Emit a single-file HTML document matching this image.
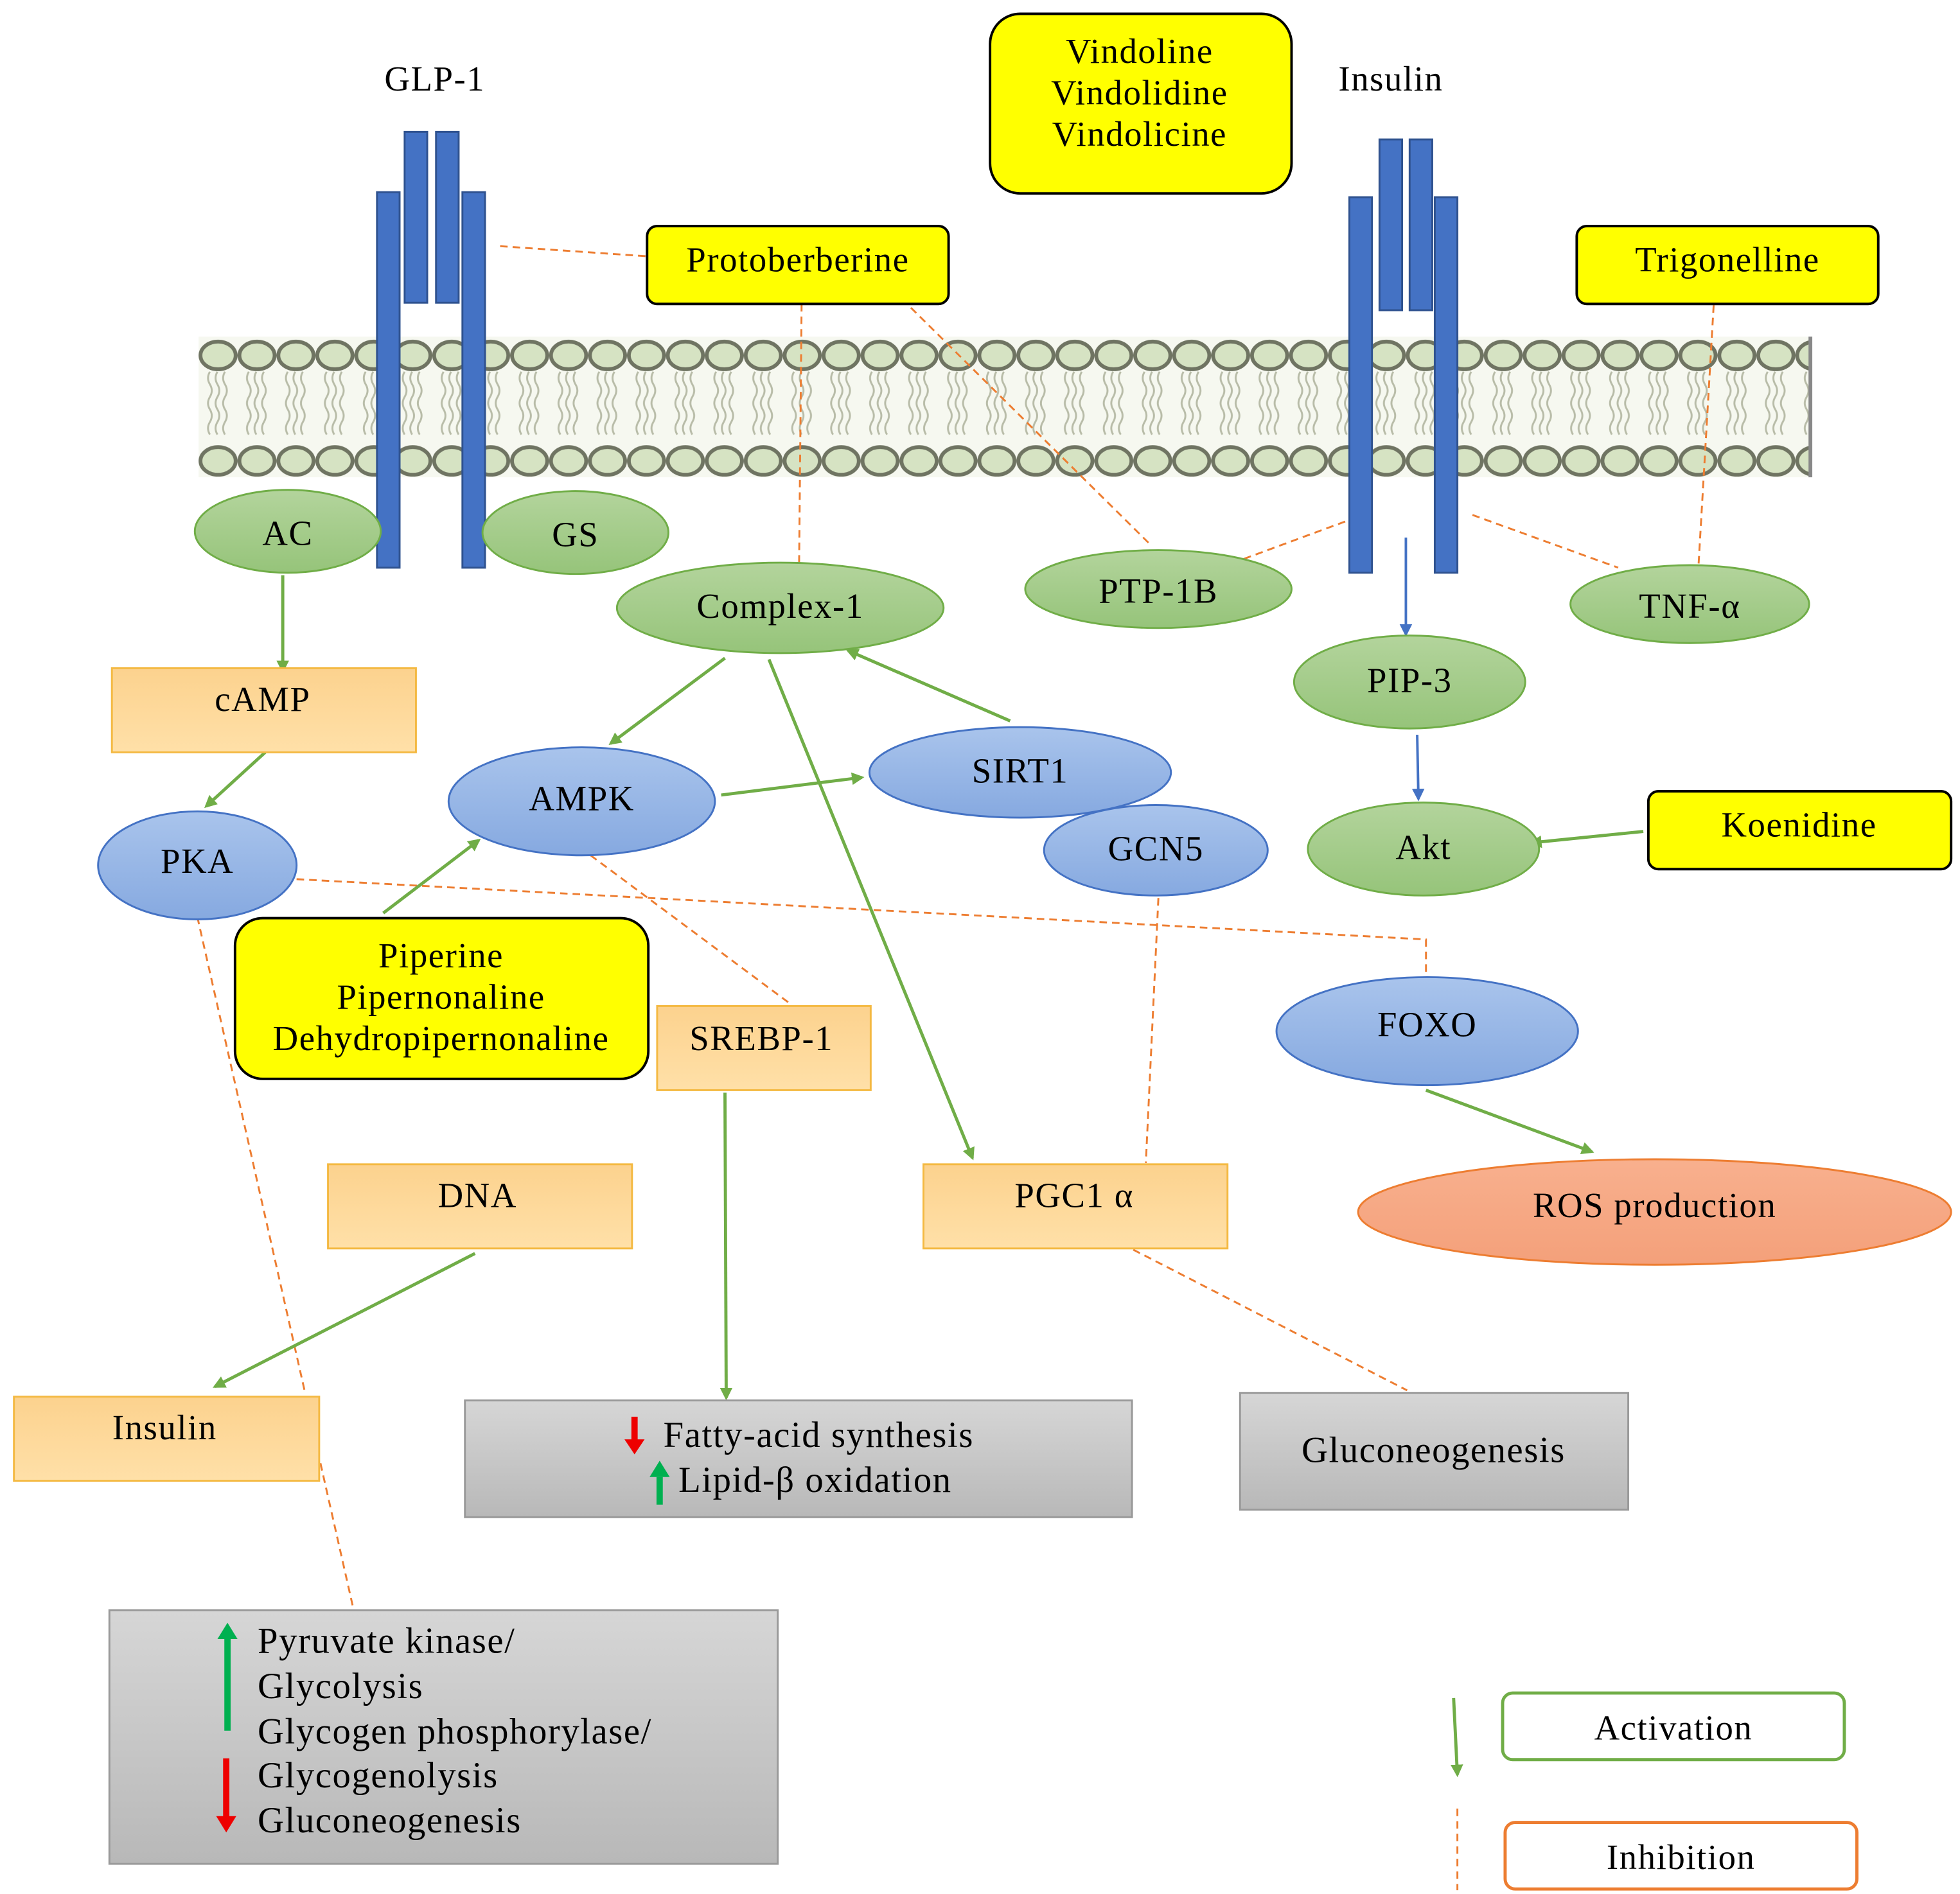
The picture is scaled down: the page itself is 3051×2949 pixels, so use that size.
<!DOCTYPE html>
<html><head><meta charset="utf-8"><style>html,body{margin:0;padding:0;background:#fff}svg{display:block}text{font-family:"Liberation Serif",serif;fill:#000;letter-spacing:0.8px}</style></head><body>
<svg width="3051" height="2949" viewBox="0 0 1560 1508" xmlns="http://www.w3.org/2000/svg">
<defs>
<pattern id="lip" x="158" y="268" width="31" height="112" patternUnits="userSpaceOnUse">
<rect width="31" height="112" fill="#f6f8f0"/>
<path d="M9 28 q-3 5 0 10 q3 5 0 10 q-3 5 0 10 q3 5 0 10 q-3 5 0 10 M15 28 q-3 5 0 10 q3 5 0 10 q-3 5 0 10 q3 5 0 10 q-3 5 0 10 M21 28 q-3 5 0 10 q3 5 0 10 q-3 5 0 10 q3 5 0 10 q-3 5 0 10" stroke="#b8bca8" stroke-width="1.5" fill="none"/>
<ellipse cx="15.5" cy="15" rx="14" ry="11" fill="#d6e3c3" stroke="#6f7462" stroke-width="3"/>
<ellipse cx="15.5" cy="99" rx="14" ry="11" fill="#d6e3c3" stroke="#6f7462" stroke-width="3"/>
</pattern>
<marker id="ag" markerWidth="10" markerHeight="10" refX="8" refY="5" orient="auto" markerUnits="userSpaceOnUse"><path d="M0,0 L10,5 L0,10 z" fill="#70ad47"/></marker>
<marker id="ab" markerWidth="10" markerHeight="10" refX="8" refY="5" orient="auto" markerUnits="userSpaceOnUse"><path d="M0,0 L10,5 L0,10 z" fill="#4472c4"/></marker>
<linearGradient id="og" x1="0" y1="0" x2="0" y2="1"><stop offset="0" stop-color="#fcd28e"/><stop offset="1" stop-color="#ffe0a8"/></linearGradient>
<linearGradient id="gg" x1="0" y1="0" x2="0" y2="1"><stop offset="0" stop-color="#d6d6d6"/><stop offset="1" stop-color="#b8b8b8"/></linearGradient>
<linearGradient id="grn" x1="0" y1="0" x2="0" y2="1"><stop offset="0" stop-color="#b3d49c"/><stop offset="1" stop-color="#96c47a"/></linearGradient>
<linearGradient id="blu" x1="0" y1="0" x2="0" y2="1"><stop offset="0" stop-color="#a9c4ec"/><stop offset="1" stop-color="#86a9e0"/></linearGradient>
<linearGradient id="red" x1="0" y1="0" x2="0" y2="1"><stop offset="0" stop-color="#f8b08e"/><stop offset="1" stop-color="#f4a07a"/></linearGradient>
</defs>
<rect x="158" y="268" width="1282" height="112" fill="url(#lip)"/>
<line x1="1441" y1="268" x2="1441" y2="380" stroke="#888" stroke-width="3"/>

<g fill="#4472c4" stroke="#2f528f" stroke-width="1.5">
<rect x="300" y="153" width="18" height="299"/><rect x="368" y="153" width="18" height="299"/>
<rect x="322" y="105" width="18" height="136"/><rect x="347" y="105" width="18" height="136"/>
<rect x="1074" y="157" width="18" height="299"/><rect x="1142" y="157" width="18" height="299"/>
<rect x="1098" y="111" width="18" height="136"/><rect x="1122" y="111" width="18" height="136"/>
</g>
<text x="346" y="72" font-size="28" text-anchor="middle">GLP-1</text>
<text x="1107" y="72" font-size="28" text-anchor="middle">Insulin</text>

<g stroke="#ed7d31" stroke-width="1.5" stroke-dasharray="6,4" fill="none">
<line x1="398" y1="196" x2="514" y2="204"/>
<line x1="638" y1="242" x2="636" y2="450"/>
<line x1="725" y1="245" x2="915" y2="433"/>
<line x1="990" y1="445" x2="1074" y2="414"/>
<line x1="1172" y1="410" x2="1288" y2="452"/>
<line x1="1364" y1="243" x2="1352" y2="449"/>
<polyline points="236,700 1135,748 1135,775"/>
<line x1="470" y1="681" x2="630" y2="800"/>
<line x1="922" y1="715" x2="912" y2="926"/>
<line x1="902" y1="995" x2="1120" y2="1107"/>
<polyline points="157,730 243,1110"/>
<line x1="255" y1="1165" x2="281" y2="1280"/>
<line x1="1160" y1="1440" x2="1160" y2="1505"/>
</g>

<g stroke="#70ad47" stroke-width="2.5" fill="none" marker-end="url(#ag)">
<line x1="225" y1="458" x2="225" y2="534"/>
<line x1="211" y1="599" x2="164" y2="642"/>
<line x1="577" y1="524" x2="486" y2="592"/>
<line x1="804" y1="574" x2="675" y2="518"/>
<line x1="574" y1="633" x2="686" y2="619"/>
<line x1="612" y1="525" x2="774" y2="922"/>
<line x1="305" y1="727" x2="381" y2="669"/>
<line x1="1308" y1="662" x2="1219" y2="671"/>
<line x1="1135" y1="868" x2="1267" y2="917"/>
<line x1="577" y1="870" x2="578" y2="1113"/>
<line x1="378" y1="998" x2="171" y2="1104"/>
<line x1="1157" y1="1352" x2="1160" y2="1413"/>
</g>
<g stroke="#4472c4" stroke-width="2" fill="none" marker-end="url(#ab)">
<line x1="1119" y1="428" x2="1119" y2="505"/>
<line x1="1128" y1="585" x2="1129" y2="636"/>
</g>

<g stroke="#70ad47" stroke-width="1.5" fill="url(#grn)">
<ellipse cx="229" cy="423" rx="74" ry="33"/>
<ellipse cx="458" cy="424" rx="74" ry="33"/>
<ellipse cx="621" cy="484" rx="130" ry="36"/>
<ellipse cx="922" cy="469" rx="106" ry="31"/>
<ellipse cx="1345" cy="481" rx="95" ry="31"/>
<ellipse cx="1122" cy="543" rx="92" ry="37"/>
<ellipse cx="1133" cy="676" rx="92" ry="37"/>
</g>
<g stroke="#4472c4" stroke-width="1.5" fill="url(#blu)">
<ellipse cx="157" cy="689" rx="79" ry="43"/>
<ellipse cx="463" cy="638" rx="106" ry="43"/>
<ellipse cx="812" cy="615" rx="120" ry="36"/>
<ellipse cx="920" cy="677" rx="89" ry="36"/>
<ellipse cx="1136" cy="821" rx="120" ry="43"/>
</g>
<ellipse cx="1317" cy="965" rx="236" ry="42" fill="url(#red)" stroke="#ed7d31" stroke-width="1.5"/>
<g font-size="28" text-anchor="middle">
<text x="229" y="434">AC</text><text x="458" y="435">GS</text>
<text x="621" y="492">Complex-1</text><text x="922" y="480">PTP-1B</text>
<text x="1345" y="492">TNF-α</text><text x="1122" y="551">PIP-3</text>
<text x="1133" y="684">Akt</text><text x="157" y="695">PKA</text>
<text x="463" y="645">AMPK</text><text x="812" y="623">SIRT1</text>
<text x="920" y="685">GCN5</text><text x="1136" y="825">FOXO</text>
<text x="1317" y="969">ROS production</text>
</g>

<g fill="#ffff00" stroke="#000" stroke-width="2">
<rect x="788" y="11" width="240" height="143" rx="24"/>
<rect x="515" y="180" width="240" height="62" rx="8"/>
<rect x="1255" y="180" width="240" height="62" rx="8"/>
<rect x="1312" y="630" width="241" height="62" rx="8"/>
<rect x="187" y="731" width="329" height="128" rx="22"/>
</g>
<g font-size="28" text-anchor="middle">
<text x="907" y="50">Vindoline</text><text x="907" y="83">Vindolidine</text><text x="907" y="116">Vindolicine</text>
<text x="635" y="216">Protoberberine</text><text x="1375" y="216">Trigonelline</text>
<text x="1432" y="666">Koenidine</text>
<text x="351" y="770">Piperine</text><text x="351" y="803">Pipernonaline</text><text x="351" y="836">Dehydropipernonaline</text>
</g>

<g fill="url(#og)" stroke="#f4b942" stroke-width="1.5">
<rect x="89" y="532" width="242" height="67"/>
<rect x="523" y="801" width="170" height="67"/>
<rect x="261" y="927" width="242" height="67"/>
<rect x="735" y="927" width="242" height="67"/>
<rect x="11" y="1112" width="243" height="67"/>
</g>
<g font-size="28" text-anchor="middle">
<text x="209" y="566">cAMP</text><text x="606" y="836">SREBP-1</text>
<text x="380" y="961">DNA</text><text x="855" y="961">PGC1 α</text>
<text x="131" y="1146">Insulin</text>
</g>

<g fill="url(#gg)" stroke="#999" stroke-width="1.5">
<rect x="370" y="1115" width="531" height="93"/>
<rect x="987" y="1109" width="309" height="93"/>
<rect x="87" y="1282" width="532" height="202"/>
</g>
<g font-size="29">
<text x="528" y="1152">Fatty-acid synthesis</text>
<text x="540" y="1188">Lipid-β oxidation</text>
<text x="1141" y="1164" text-anchor="middle">Gluconeogenesis</text>
<text x="205" y="1316">Pyruvate kinase/</text>
<text x="205" y="1352">Glycolysis</text>
<text x="205" y="1388">Glycogen phosphorylase/</text>
<text x="205" y="1423">Glycogenolysis</text>
<text x="205" y="1459">Gluconeogenesis</text>
</g>
<g stroke-width="5" fill="none">
<line x1="505" y1="1128" x2="505" y2="1148" stroke="#e00"/>
<line x1="525" y1="1176" x2="525" y2="1198" stroke="#00b050"/>
<line x1="181" y1="1305" x2="181" y2="1378" stroke="#00b050"/>
<line x1="180" y1="1400" x2="180" y2="1448" stroke="#e00"/>
</g>
<path d="M497 1146 L513 1146 L505 1158 z" fill="#e00"/>
<path d="M517 1176 L533 1176 L525 1163 z" fill="#00b050"/>
<path d="M173 1305 L189 1305 L181 1292 z" fill="#00b050"/>
<path d="M172 1446 L188 1446 L180 1459 z" fill="#e00"/>

<rect x="1196" y="1348" width="272" height="53" rx="8" fill="#fff" stroke="#70ad47" stroke-width="2.5"/>
<rect x="1198" y="1451" width="280" height="53" rx="8" fill="#fff" stroke="#ed7d31" stroke-width="2.5"/>
<text x="1332" y="1385" font-size="28" text-anchor="middle">Activation</text>
<text x="1338" y="1488" font-size="28" text-anchor="middle">Inhibition</text>
</svg>
</body></html>
